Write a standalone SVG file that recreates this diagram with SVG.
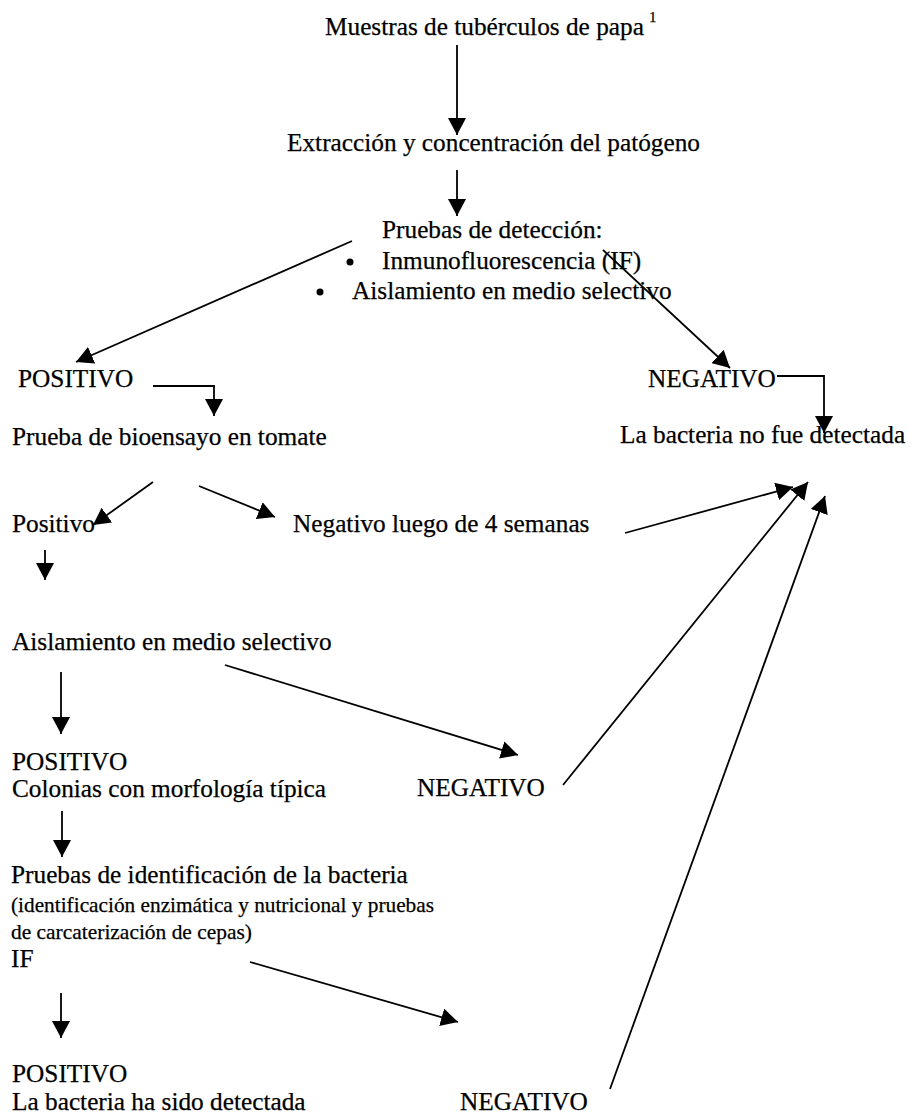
<svg xmlns="http://www.w3.org/2000/svg" width="910" height="1113" viewBox="0 0 910 1113">
<style>
text{font-family:"Liberation Serif","Times New Roman",serif;font-size:25.3px;fill:#000;stroke:#000;stroke-width:0.25}
.sm{font-size:21.5px}
.sup{font-size:15px}
.c{stroke:#000;stroke-width:1.8;fill:none;marker-end:url(#ah)}
</style>
<defs>
<marker id="ah" viewBox="0 0 17 18" refX="17" refY="9" markerWidth="17" markerHeight="18" markerUnits="userSpaceOnUse" orient="auto">
<path d="M0,0 L17,9 L0,18 z" fill="#000"/>
</marker>
</defs>
<rect width="910" height="1113" fill="#fff"/>
<g id="n-muestras"><text x="325" y="35">Muestras de tubérculos de papa</text><text class="sup" x="649" y="22">1</text></g>
<g id="n-extraccion"><text x="287" y="151">Extracción y concentración del patógeno</text></g>
<g id="n-pruebas-deteccion">
<text x="382" y="238">Pruebas de detección:</text>
<circle cx="350" cy="262" r="3.5" fill="#000"/>
<text x="382" y="269">Inmunofluorescencia (IF)</text>
<circle cx="320" cy="292" r="3.5" fill="#000"/>
<text x="352" y="299">Aislamiento en medio selectivo</text>
</g>
<g id="n-positivo1"><text x="18" y="387">POSITIVO</text></g>
<g id="n-negativo1"><text x="648" y="387">NEGATIVO</text></g>
<g id="n-bioensayo"><text x="12" y="445">Prueba de bioensayo en tomate</text></g>
<g id="n-no-detectada"><text x="620" y="443">La bacteria no fue detectada</text></g>
<g id="n-positivo2"><text x="12" y="532">Positivo</text></g>
<g id="n-negativo-4sem"><text x="293" y="532">Negativo luego de 4 semanas</text></g>
<g id="n-aislamiento"><text x="12" y="650">Aislamiento en medio selectivo</text></g>
<g id="n-positivo3"><text x="12" y="770">POSITIVO</text><text x="12" y="797">Colonias con morfología típica</text></g>
<g id="n-negativo3"><text x="417" y="796">NEGATIVO</text></g>
<g id="n-identificacion">
<text x="11" y="883">Pruebas de identificación de la bacteria</text>
<text class="sm" x="11" y="912" textLength="423" lengthAdjust="spacingAndGlyphs">(identificación enzimática y nutricional y pruebas</text>
<text class="sm" x="11" y="939" textLength="241" lengthAdjust="spacingAndGlyphs">de carcaterización de cepas)</text>
<text x="11" y="967">IF</text>
</g>
<g id="n-positivo4"><text x="12" y="1082">POSITIVO</text><text x="12" y="1110">La bacteria ha sido detectada</text></g>
<g id="n-negativo4"><text x="460" y="1110">NEGATIVO</text></g>
<g id="connectors">
<line class="c" x1="457" y1="45" x2="457" y2="135"/>
<line class="c" x1="457" y1="170" x2="457" y2="216"/>
<line class="c" x1="352" y1="241" x2="76" y2="362"/>
<line class="c" x1="603" y1="250" x2="730" y2="368"/>
<polyline class="c" points="153,386 214,386 214,416"/>
<polyline class="c" points="777,376 824,376 824,433"/>
<line class="c" x1="153" y1="482" x2="93" y2="525"/>
<line class="c" x1="199" y1="486" x2="275" y2="517"/>
<line class="c" x1="45" y1="550" x2="45" y2="580"/>
<line class="c" x1="625" y1="533" x2="793" y2="487"/>
<line class="c" x1="61" y1="672" x2="61" y2="734"/>
<line class="c" x1="225" y1="665" x2="518" y2="755"/>
<line class="c" x1="563" y1="785" x2="808" y2="482"/>
<line class="c" x1="62" y1="811" x2="62" y2="857"/>
<line class="c" x1="250" y1="962" x2="458" y2="1022"/>
<line class="c" x1="61" y1="993" x2="61" y2="1038"/>
<line class="c" x1="610" y1="1089" x2="825" y2="496"/>
</g>
</svg>
